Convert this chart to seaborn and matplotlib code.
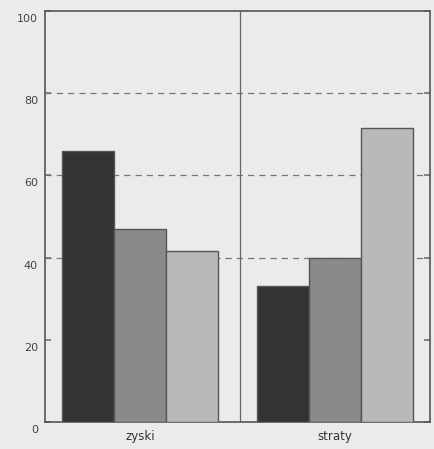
import seaborn as sns
import matplotlib.pyplot as plt
import matplotlib.transforms as mtransforms
import pandas as pd

categories = ['zyski', 'straty']
series = ['s1', 's2', 's3']
values_s1 = [66, 33]
values_s2 = [47, 40]
values_s3 = [41.5, 71.5]
y_ticks = [0, 20, 40, 60, 80, 100]

df = pd.DataFrame({
    'kategoria': categories * 3,
    'seria': [series[0]] * 2 + [series[1]] * 2 + [series[2]] * 2,
    'wartosc': values_s1 + values_s2 + values_s3,
})

bg = '#ebebe9'
sns.set_theme(style='white')
plt.rcParams['font.family'] = ['DejaVu Sans']

fig = plt.figure(figsize=(4.34, 4.49), dpi=100, facecolor=bg)
ax = fig.add_axes([45 / 434, 27 / 449, 385 / 434, 411 / 449])
ax.set_facecolor(bg)

sns.barplot(data=df, x='kategoria', y='wartosc', hue='seria', order=categories,
            palette=['#333333', '#8a8a8a', '#b9b9b9'], width=0.8,
            edgecolor='#555555', linewidth=1, legend=False, ax=ax, zorder=3)

ax.set_xlim(-0.49, 1.49)
ax.set_ylim(0, 100)
ax.set_yticks(y_ticks)
ax.set_xlabel('')
ax.set_ylabel('')

for y in [40, 60, 80]:
    ax.axhline(y, color='#777777', linestyle=(0, (5, 4)), linewidth=0.9, zorder=1)
ax.axvline(0.515, color='#666666', linewidth=0.9, zorder=2)

for side, spine in ax.spines.items():
    spine.set_color('#555555')
    spine.set_linewidth(1.2)

ax.tick_params(axis='y', which='both', direction='in', length=4, color='#777777',
               labelsize=8, labelcolor='#444444', pad=5, right=True, left=True)
ax.tick_params(axis='x', length=0, labelsize=8.5, labelcolor='#333333', pad=6)

offset = mtransforms.ScaledTranslation(0, -7 / 100, fig.dpi_scale_trans)
for lbl in ax.get_yticklabels():
    lbl.set_transform(lbl.get_transform() + offset)

fig.savefig('out.png', dpi=100, facecolor=bg)
